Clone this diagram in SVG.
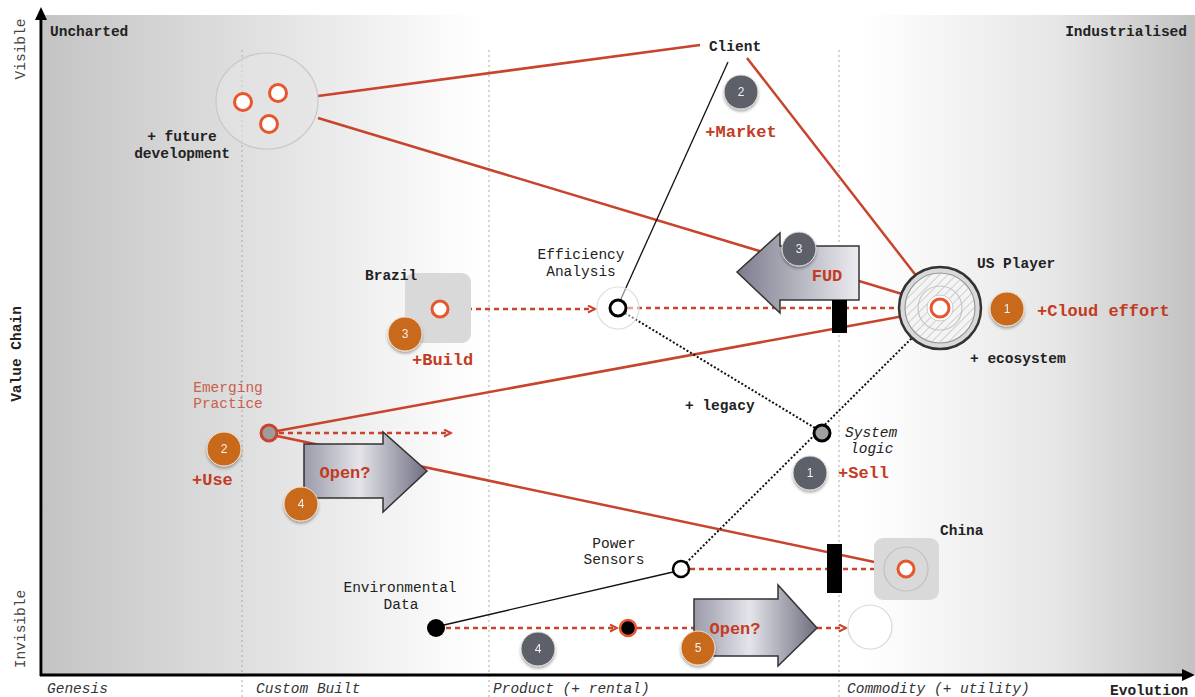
<svg xmlns="http://www.w3.org/2000/svg" width="1195" height="697" viewBox="0 0 1195 697">
<style>
text{font-family:"Liberation Mono","Courier New",monospace;font-size:14.5px;fill:#222}
.b{font-weight:bold}
.it{font-style:italic;fill:#333}
.red{fill:#c23b22;font-weight:bold;font-size:17px}
.em{fill:#c8604e}
.badge text{font-family:"Liberation Sans",Arial,sans-serif;font-size:12px;fill:#f2f2f2;text-anchor:middle}
.og{fill:#c8691c;stroke:#f4e2d0;stroke-width:1}
.gy{fill:#5d6069;stroke:#e0e0e0;stroke-width:1}
.rl{stroke:#c8442c;stroke-width:2.5;fill:none}
.rd{stroke:#c8442c;stroke-width:2.5;fill:none;stroke-dasharray:5 4}
.bd{stroke:#111;stroke-width:2;fill:none;stroke-dasharray:2 2}
.bl{stroke:#111;stroke-width:1.3;fill:none}
.grid{stroke:#aaa;stroke-width:1;stroke-dasharray:2 3}
.on{fill:#fff;stroke:#e8562e;stroke-width:3}
.faint{fill:none;stroke:#d4d4d4;stroke-width:1.2}
.bar{fill:#000}
.arrow{stroke:#333;stroke-width:1.5}
</style>
<defs>
<linearGradient id="bg" x1="43" y1="0" x2="1195" y2="0" gradientUnits="userSpaceOnUse">
<stop offset="0" stop-color="#c4c4c4"/>
<stop offset="0.17" stop-color="#dedede"/>
<stop offset="0.38" stop-color="#ffffff"/>
<stop offset="0.71" stop-color="#ffffff"/>
<stop offset="0.88" stop-color="#e6e6e6"/>
<stop offset="1" stop-color="#c2c2c2"/>
</linearGradient>
<linearGradient id="opg" x1="0" y1="0" x2="1" y2="0">
<stop offset="0" stop-color="#9a9aaa"/>
<stop offset="0.45" stop-color="#e4e4ea"/>
<stop offset="1" stop-color="#6e6e80"/>
</linearGradient>
<linearGradient id="fudg" x1="0" y1="0" x2="1" y2="0">
<stop offset="0" stop-color="#7c7c8e"/>
<stop offset="1" stop-color="#ececf0"/>
</linearGradient>
<pattern id="hatch" width="6" height="6" patternUnits="userSpaceOnUse" patternTransform="rotate(45)">
<rect width="6" height="6" fill="#f4f4f4"/>
<line x1="0" y1="0" x2="0" y2="6" stroke="#cfcfcf" stroke-width="2"/>
</pattern>
<marker id="ra" markerWidth="10" markerHeight="10" refX="8" refY="4" orient="auto" markerUnits="userSpaceOnUse">
<path d="M1,0.5 L8,4 L1,7.5" fill="none" stroke="#c8442c" stroke-width="2"/>
</marker>
<filter id="sh" x="-30%" y="-30%" width="160%" height="170%">
<feDropShadow dx="0" dy="2" stdDeviation="1.5" flood-color="#000" flood-opacity="0.35"/>
</filter>
</defs>

<rect x="43" y="15" width="1152" height="659" fill="url(#bg)"/>

<g id="grid">
<line class="grid" x1="242" y1="50" x2="242" y2="697"/>
<line class="grid" x1="489" y1="50" x2="489" y2="697"/>
<line class="grid" x1="839" y1="50" x2="839" y2="697"/>
</g>

<g id="axes">
<line x1="41" y1="676" x2="41" y2="18" stroke="#000" stroke-width="3"/>
<path d="M41,7 L35,20 L47,20 Z" fill="#000"/>
<line x1="40" y1="675" x2="1184" y2="675" stroke="#000" stroke-width="3"/>
<path d="M1195,675 L1182,669 L1182,681 Z" fill="#000"/>
<text x="50" y="36" class="b">Uncharted</text>
<text x="1187" y="36" class="b" text-anchor="end">Industrialised</text>
<text transform="translate(25,49) rotate(-90)" text-anchor="middle" style="fill:#444">Visible</text>
<text transform="translate(21,354) rotate(-90)" text-anchor="middle" class="b">Value Chain</text>
<text transform="translate(25,629) rotate(-90)" text-anchor="middle" style="fill:#444">Invisible</text>
<text x="47" y="693" class="it">Genesis</text>
<text x="256" y="693" class="it">Custom Built</text>
<text x="493" y="693" class="it">Product (+ rental)</text>
<text x="847" y="693" class="it">Commodity (+ utility)</text>
<text x="1110" y="695" class="b">Evolution</text>
</g>

<g id="connectors">
<line class="rl" x1="318" y1="96" x2="700" y2="45"/>
<line class="rl" x1="318" y1="118" x2="932" y2="303"/>
<line class="rl" x1="747" y1="58" x2="935" y2="300"/>
<line class="bl" x1="728" y1="62" x2="620" y2="301"/>
<line class="rl" x1="277" y1="431" x2="931" y2="311"/>
<line class="rl" x1="277" y1="436" x2="898" y2="567"/>
<line class="bl" x1="444" y1="625" x2="673" y2="572"/>
<line class="bd" x1="625" y1="313" x2="815" y2="428"/>
<line class="bd" x1="686" y1="563" x2="934" y2="316"/>
<line class="rd" x1="449" y1="309" x2="595" y2="309" marker-end="url(#ra)"/>
<line class="rd" x1="628" y1="308" x2="917" y2="308" marker-end="url(#ra)"/>
<line class="rd" x1="279" y1="433" x2="451" y2="433" marker-end="url(#ra)"/>
<line class="rd" x1="690" y1="569" x2="893" y2="569" marker-end="url(#ra)"/>
<line class="rd" x1="446" y1="628" x2="617" y2="628" marker-end="url(#ra)"/>
<line class="rd" x1="637" y1="628" x2="846" y2="628" marker-end="url(#ra)"/>
</g>

<g id="future-development">
<ellipse cx="267" cy="101" rx="51" ry="48" fill="#e4e4e4" fill-opacity="0.6" stroke="#c8c8c8" stroke-width="1.2"/>
<circle class="on" cx="243" cy="102" r="8.5"/>
<circle class="on" cx="278" cy="93" r="8.5"/>
<circle class="on" cx="269" cy="124" r="8.5"/>
<text x="182" y="141" class="b" text-anchor="middle">+ future</text>
<text x="182" y="158" class="b" text-anchor="middle">development</text>
</g>

<g id="client">
<text x="735" y="51" class="b" text-anchor="middle">Client</text>
<text x="741" y="137" class="red" text-anchor="middle">+Market</text>
</g>

<g id="brazil">
<rect x="405" y="273" width="66" height="70" rx="9" fill="#d9d9d9"/>
<text x="365" y="280" class="b">Brazil</text>
<circle class="on" cx="440" cy="309" r="8"/>
<text x="412" y="365" class="red">+Build</text>
</g>

<g id="efficiency-analysis">
<text x="581" y="259" text-anchor="middle">Efficiency</text>
<text x="581" y="276" text-anchor="middle">Analysis</text>
<circle cx="618" cy="308" r="21" fill="#fff" fill-opacity="0.5" stroke="#ddd" stroke-width="1.2"/>
<circle cx="618" cy="308" r="8" fill="#fff" stroke="#000" stroke-width="3"/>
</g>

<g id="us-player">
<circle cx="940" cy="308" r="41" fill="#d9d9d9" stroke="#333" stroke-width="2.5"/>
<circle cx="940" cy="308" r="35" fill="url(#hatch)" stroke="#9a9a9a" stroke-width="1.2"/>
<circle cx="940" cy="308" r="22" fill="none" stroke="#c4c4c4" stroke-width="1.2"/>
<circle cx="940" cy="308" r="13" fill="#fff" stroke="#ccc" stroke-width="1"/>
<circle class="on" cx="940" cy="308" r="9"/>
<text x="977" y="268" class="b">US Player</text>
<text x="970" y="363" class="b">+ ecosystem</text>
<text x="1037" y="316" class="red">+Cloud effort</text>
</g>

<g id="emerging-practice">
<text x="228" y="392" class="em" text-anchor="middle">Emerging</text>
<text x="228" y="408" class="em" text-anchor="middle">Practice</text>
<circle cx="269" cy="433" r="8" fill="#9c9c9c" stroke="#c8442c" stroke-width="3"/>
<text x="192" y="485" class="red">+Use</text>
</g>

<g id="system-logic">
<text x="685" y="410" class="b">+ legacy</text>
<circle cx="822" cy="433" r="8" fill="#a0a0a0" stroke="#000" stroke-width="3"/>
<text x="845" y="437" class="it" style="fill:#222">System</text>
<text x="850" y="453" class="it" style="fill:#222">logic</text>
<text x="838" y="478" class="red">+Sell</text>
</g>

<g id="power-sensors">
<text x="614" y="548" text-anchor="middle">Power</text>
<text x="614" y="564" text-anchor="middle">Sensors</text>
<circle cx="681" cy="569" r="8" fill="#fff" stroke="#000" stroke-width="2.5"/>
</g>

<g id="china">
<text x="940" y="535" class="b">China</text>
<rect x="874" y="538" width="65" height="62" rx="9" fill="#d9d9d9"/>
<circle class="faint" cx="906" cy="569" r="22" style="stroke:#c0c0c0"/>
<circle class="on" cx="906" cy="569" r="8"/>
</g>

<g id="environmental-data">
<text x="400" y="592" text-anchor="middle">Environmental</text>
<text x="401" y="609" text-anchor="middle">Data</text>
<circle cx="436" cy="628" r="9" fill="#000"/>
</g>

<g id="mid-component">
<circle cx="628" cy="628" r="8" fill="#000" stroke="#e8562e" stroke-width="2.5"/>
</g>

<g id="future-commodity">
<circle cx="870" cy="627" r="22" fill="#fff" stroke="#d8d8d8" stroke-width="1.2"/>
</g>

<g id="fud-arrow">
<path class="arrow" d="M737,272 L780,233 L780,246 L859,246 L859,300 L780,300 L780,313 Z" fill="url(#fudg)"/>
<text x="827" y="281" class="red" text-anchor="middle">FUD</text>
<rect class="bar" x="832" y="300" width="15" height="33"/>
</g>

<g id="open-arrow-1">
<path class="arrow" d="M304,444 L383,444 L383,432 L427,471 L383,512 L383,498 L304,498 Z" fill="url(#opg)"/>
<text x="345" y="478" class="red" text-anchor="middle">Open?</text>
</g>

<g id="open-arrow-2">
<path class="arrow" d="M694,599 L778,599 L778,585 L817,628 L778,666 L778,656 L694,656 Z" fill="url(#opg)"/>
<text x="735" y="634" class="red" text-anchor="middle">Open?</text>
</g>

<g id="inertia-china">
<rect class="bar" x="827" y="544" width="15" height="49"/>
</g>

<g id="badges" class="badge">
<g filter="url(#sh)"><circle class="gy" cx="741" cy="92" r="17"/><text x="741" y="96">2</text></g>
<g filter="url(#sh)"><circle class="gy" cx="799" cy="249" r="17"/><text x="799" y="253">3</text></g>
<g filter="url(#sh)"><circle class="og" cx="1007" cy="309" r="17"/><text x="1007" y="313">1</text></g>
<g filter="url(#sh)"><circle class="og" cx="405" cy="334" r="17"/><text x="405" y="338">3</text></g>
<g filter="url(#sh)"><circle class="og" cx="224" cy="449" r="17"/><text x="224" y="453">2</text></g>
<g filter="url(#sh)"><circle class="og" cx="301" cy="504" r="17"/><text x="301" y="508">4</text></g>
<g filter="url(#sh)"><circle class="gy" cx="810" cy="473" r="17"/><text x="810" y="477">1</text></g>
<g filter="url(#sh)"><circle class="gy" cx="538" cy="649" r="17"/><text x="538" y="653">4</text></g>
<g filter="url(#sh)"><circle class="og" cx="698" cy="648" r="17"/><text x="698" y="652">5</text></g>
</g>
</svg>
